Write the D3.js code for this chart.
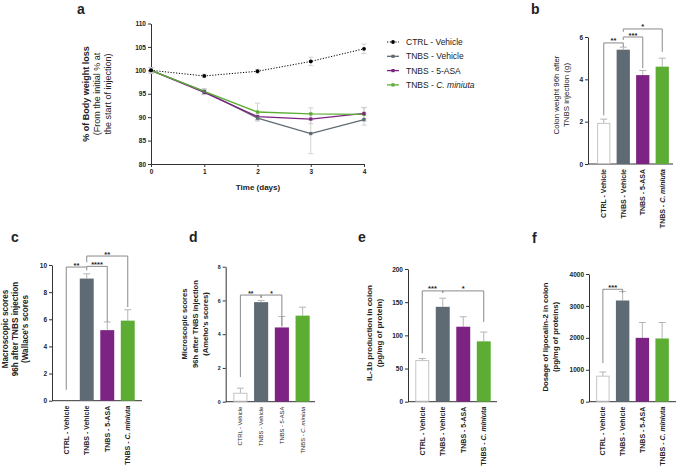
<!DOCTYPE html>
<html><head><meta charset="utf-8">
<script src="https://cdn.jsdelivr.net/npm/d3@7"></script>
<style>
body{margin:0;background:#fff}
svg{display:block}
text{font-family:"Liberation Sans",Arial,Helvetica,sans-serif;fill:#222}
</style>
</head><body>
<svg id="chart" width="676" height="472"></svg>
<script>
// ---------- DATA ----------
const groups = ["CTRL - Vehicle", "TNBS - Vehicle", "TNBS - 5-ASA", "TNBS - C. miniuta"];
const groupColors = ["#ffffff", "#5f6b74", "#7c2383", "#5dad35"];

// panel a : body weight (% of initial) over days
const days = [0, 1, 2, 3, 4];
const weightCtrl = [100, 98.8, 99.8, 101.9, 104.6];
const weightCtrlErr = [0.6, 0.4, 0.4, 0.9, 1.0];
const weightTnbs = [100, 95.5, 89.8, 86.5, 89.5];
const weightTnbsErr = [0.6, 0.6, 0.6, 4.3, 1.2];
const weightAsa = [100, 95.3, 90.1, 89.6, 90.8];
const weightAsaErr = [0.6, 0.5, 0.6, 1.0, 1.2];
const weightCmin = [100, 95.5, 91.1, 90.7, 90.6];
const weightCminErr = [0.6, 0.5, 1.9, 1.3, 1.5];
const weightTicks = [80, 85, 90, 95, 100, 105, 110];

// panel b : colon weight (g)
const colonWeight = [1.92, 5.4, 4.2, 4.6];
const colonWeightErr = [0.2, 0.12, 0.22, 0.4];
const colonTicks = [0, 2, 4, 6];

// panel c : macroscopic scores
const macroScores = [0, 9.0, 5.2, 5.9];
const macroScoresErr = [0, 0.35, 0.6, 0.8];
const macroTicks = [0, 2, 4, 6, 8, 10];

// panel d : microscopic scores
const microScores = [0.5, 5.9, 4.4, 5.1];
const microScoresErr = [0.3, 0.1, 0.65, 0.5];
const microTicks = [0, 2, 4, 6, 8];

// panel e : IL-1b
const il1b = [62, 143, 113, 91];
const il1bErr = [3, 13, 15, 14];
const il1bTicks = [0, 50, 100, 150, 200];

// panel f : lipocalin-2
const lipocalin = [800, 3170, 2000, 1980];
const lipocalinErr = [130, 280, 480, 500];
const lipocalinTicks = [0, 1000, 2000, 3000, 4000];

// significance brackets: [fromGroup, toGroup, level, leftEnd, rightEnd, label] (data units)
const colonSig = [[0, 1, 5.72, 2.3, 5.53, "**"], [1, 2, 6.0, 5.86, 4.53, "***"], [1, 3, 6.38, 6.24, 5.3, "*"]];
const macroSig = [[0, 1, 9.85, 0.8, 9.6, "**"], [1, 2, 9.9, 9.85, 5.8, "****"], [1, 3, 10.66, 10.2, 6.9, "**"]];
const microSig = [[0, 1, 6.32, 1.46, 6.15, "**"], [1, 2, 6.32, 6.15, 4.49, "*"]];
const il1bSig = [[0, 1, 167, 73, 164, "***"], [1, 3, 167, 164, 120, "*"]];
const lipoSig = [[0, 1, 3522, 1212, 3406, "***"]];

// ---------- DRAWING ----------
const svg = d3.select("#chart");
const AX = "#333", ERR = "#b5b5b5", BR = "#8a8a8a";
const fmt = d3.format("d");

function groupLabel(sel, name) {
  const parts = name.split(" - ");
  if (parts[1].startsWith("C.")) {
    sel.append("tspan").text(parts[0] + " - ");
    sel.append("tspan").attr("font-style", "italic").text(parts[1]);
  } else sel.text(name);
}

function panelLetter(x, y, t) {
  svg.append("text").attr("x", x).attr("y", y).attr("font-size", 14).attr("font-weight", "bold").text(t);
}

function yTitle(lines, xs, cy, fs, weights) {
  lines.forEach((l, i) => {
    svg.append("text")
      .attr("transform", `translate(${xs[i]},${cy}) rotate(-90)`)
      .attr("text-anchor", "middle").attr("dominant-baseline", "central")
      .attr("font-size", fs).attr("font-weight", weights[i]).text(l);
  });
}

function styleAxis(g, fs) {
  g.select(".domain").attr("stroke", AX).attr("stroke-width", 1);
  g.selectAll(".tick line").attr("stroke", AX);
  g.selectAll(".tick text").attr("font-size", fs).attr("font-weight", "bold").attr("fill", "#222");
}

function barPanel(o) {
  const y = d3.scaleLinear().domain([0, o.ticks[o.ticks.length - 1]]).range([o.yBottom, o.yTop]);
  const x = d3.scaleBand().domain(groups).range([o.bandStart, o.bandEnd]).paddingInner(0.32).paddingOuter(0.16);
  const ga = svg.append("g").attr("transform", `translate(${o.axisX},0)`)
    .call(d3.axisLeft(y).tickValues(o.ticks).tickFormat(fmt).tickSize(3).tickPadding(2).tickSizeOuter(0));
  styleAxis(ga, o.tickFs);
  svg.append("line").attr("x1", o.axisX).attr("x2", o.axisEnd).attr("y1", o.yBottom).attr("y2", o.yBottom)
    .attr("stroke", AX).attr("stroke-width", 1);
  groups.forEach((gname, i) => {
    const v = o.values[i], e = o.errors[i];
    const cx = x(gname) + x.bandwidth() / 2;
    if (e > 0) {
      svg.append("line").attr("x1", cx).attr("x2", cx).attr("y1", y(v)).attr("y2", y(v + e)).attr("stroke", ERR).attr("stroke-width", 1);
      svg.append("line").attr("x1", cx - 3.5).attr("x2", cx + 3.5).attr("y1", y(v + e)).attr("y2", y(v + e)).attr("stroke", ERR).attr("stroke-width", 1);
    }
    if (v > 0) {
      svg.append("rect").attr("x", x(gname) + (i === 0 ? 0.5 : 0)).attr("width", x.bandwidth() - (i === 0 ? 1 : 0))
        .attr("y", y(v)).attr("height", y(0) - y(v) - (i === 0 ? 0.5 : 0))
        .attr("fill", groupColors[i]).attr("stroke", i === 0 ? "#c4c4c4" : "none").attr("stroke-width", 1);
    }
    const t = svg.append("text")
      .attr("transform", `translate(${cx + o.catFs * 0.36},${o.yBottom + 5}) rotate(-90)`)
      .attr("text-anchor", "end").attr("font-size", o.catFs).attr("font-weight", o.catWeight);
    groupLabel(t, gname);
  });
  o.sig.forEach(s => {
    const xa = x(groups[s[0]]) + x.bandwidth() / 2, xb = x(groups[s[1]]) + x.bandwidth() / 2;
    const ly = y(s[2]);
    svg.append("path").attr("d", `M${xa},${y(s[3])}V${ly}H${xb}V${y(s[4])}`)
      .attr("fill", "none").attr("stroke", BR).attr("stroke-width", 1);
    svg.append("text").attr("x", (xa + xb) / 2).attr("y", ly + 0.5).attr("text-anchor", "middle")
      .attr("font-size", o.starFs).attr("font-weight", "bold").text(s[5]);
  });
  yTitle(o.title, o.titleX, o.titleY, o.titleFs, o.titleW);
}

// ---- panel a ----
(function () {
  const x = d3.scaleLinear().domain([0, 4]).range([151, 364]);
  const y = d3.scaleLinear().domain([80, 110]).range([164, 23.5]);
  const gy = svg.append("g").attr("transform", "translate(151,0)")
    .call(d3.axisLeft(y).tickValues(weightTicks).tickFormat(fmt).tickSize(3).tickPadding(2).tickSizeOuter(0));
  styleAxis(gy, 6.5);
  const gx = svg.append("g").attr("transform", "translate(0,164)")
    .call(d3.axisBottom(x).tickValues(days).tickFormat(fmt).tickSize(3).tickPadding(2).tickSizeOuter(0));
  styleAxis(gx, 6.5);

  const series = [
    {name: groups[0], v: weightCtrl, e: weightCtrlErr, c: "#000", dash: "1.2,1.6", marker: "circle"},
    {name: groups[1], v: weightTnbs, e: weightTnbsErr, c: groupColors[1], dash: null, marker: "square"},
    {name: groups[2], v: weightAsa, e: weightAsaErr, c: groupColors[2], dash: null, marker: "square"},
    {name: groups[3], v: weightCmin, e: weightCminErr, c: groupColors[3], dash: null, marker: "square"}
  ];
  series.forEach(s => {
    days.forEach((d, i) => {
      const cx = x(d);
      svg.append("line").attr("x1", cx).attr("x2", cx).attr("y1", y(s.v[i] - s.e[i])).attr("y2", y(s.v[i] + s.e[i])).attr("stroke", "#c8c8c8").attr("stroke-width", 0.8);
      [s.v[i] - s.e[i], s.v[i] + s.e[i]].forEach(val =>
        svg.append("line").attr("x1", cx - 2.5).attr("x2", cx + 2.5).attr("y1", y(val)).attr("y2", y(val)).attr("stroke", "#c8c8c8").attr("stroke-width", 0.8));
    });
  });
  const line = d3.line().x((d, i) => x(days[i])).y(d => y(d));
  series.forEach(s => {
    svg.append("path").attr("d", line(s.v)).attr("fill", "none").attr("stroke", s.c)
      .attr("stroke-width", s.dash ? 1 : 1.3).attr("stroke-dasharray", s.dash);
  });
  function marker(cx, cy, s) {
    if (s.marker === "circle") svg.append("circle").attr("cx", cx).attr("cy", cy).attr("r", 1.9).attr("fill", s.c);
    else svg.append("rect").attr("x", cx - 1.6).attr("y", cy - 1.6).attr("width", 3.2).attr("height", 3.2).attr("fill", s.c);
  }
  series.slice().reverse().forEach(s => days.forEach((d, i) => marker(x(d), y(s.v[i]), s)));

  series.forEach((s, i) => {
    const ly = 42 + i * 14.3;
    svg.append("line").attr("x1", 387).attr("x2", 399).attr("y1", ly).attr("y2", ly).attr("stroke", s.c)
      .attr("stroke-width", s.dash ? 1 : 1.3).attr("stroke-dasharray", s.dash);
    marker(393, ly, s);
    const t = svg.append("text").attr("x", 406).attr("y", ly).attr("dominant-baseline", "central").attr("font-size", 8.5);
    groupLabel(t, s.name);
  });

  svg.append("text").attr("x", 258).attr("y", 190).attr("text-anchor", "middle").attr("font-size", 8).attr("font-weight", "bold").text("Time (days)");
  yTitle(["% of Body weight loss", "(From the initial % at", "the start of injection)"], [86, 97, 107.5], 94, 9, ["bold", "normal", "normal"]);
  panelLetter(77, 14, "a");
})();

// ---- panel b ----
barPanel({axisX: 588, axisEnd: 673, yTop: 37, yBottom: 164, bandStart: 594, bandEnd: 672,
  ticks: colonTicks, values: colonWeight, errors: colonWeightErr, sig: colonSig,
  tickFs: 6.5, catFs: 7, catWeight: "bold", starFs: 7.5,
  title: ["Colon weight 96h after", "TNBS injection (g)"], titleX: [556.5, 566], titleY: 95, titleFs: 7.9, titleW: ["normal", "normal"]});
panelLetter(531, 14, "b");

// ---- panel c ----
barPanel({axisX: 52, axisEnd: 142, yTop: 265, yBottom: 400.7, bandStart: 56, bandEnd: 138,
  ticks: macroTicks, values: macroScores, errors: macroScoresErr, sig: macroSig,
  tickFs: 6.5, catFs: 7, catWeight: "bold", starFs: 7.5,
  title: ["Macroscopic scores", "96h after TNBS injection", "(Wallace's scores"], titleX: [5, 15, 25], titleY: 329, titleFs: 8.2, titleW: ["bold", "bold", "bold"]});
panelLetter(11, 242, "c");

// ---- panel d ----
barPanel({axisX: 225.7, axisEnd: 315, yTop: 266.7, yBottom: 401.7, bandStart: 230, bandEnd: 313,
  ticks: microTicks, values: microScores, errors: microScoresErr, sig: microSig,
  tickFs: 5.3, catFs: 5.8, catWeight: "normal", starFs: 6.5,
  title: ["Microscopic scores", "96h after TNBS injection", "(Ameho's scores)"], titleX: [184.5, 195, 205.5], titleY: 324, titleFs: 7.6, titleW: ["bold", "bold", "bold"]});
panelLetter(189, 242, "d");

// ---- panel e ----
barPanel({axisX: 408, axisEnd: 497, yTop: 269, yBottom: 401.7, bandStart: 412, bandEnd: 494,
  ticks: il1bTicks, values: il1b, errors: il1bErr, sig: il1bSig,
  tickFs: 6.5, catFs: 7, catWeight: "bold", starFs: 7.5,
  title: ["IL-1b production in colon", "(pg/mg of protein)"], titleX: [369.5, 379.5], titleY: 333, titleFs: 8, titleW: ["bold", "bold"]});
panelLetter(358, 242, "e");

// ---- panel f ----
barPanel({axisX: 589, axisEnd: 676, yTop: 274, yBottom: 401.7, bandStart: 593, bandEnd: 672,
  ticks: lipocalinTicks, values: lipocalin, errors: lipocalinErr, sig: lipoSig,
  tickFs: 6.5, catFs: 7, catWeight: "bold", starFs: 7.5,
  title: ["Dosage of lipocalin-2 in colon", "(pg/mg of proteins)"], titleX: [545, 555.5], titleY: 337, titleFs: 7.7, titleW: ["bold", "bold"]});
panelLetter(532, 243, "f");
</script>
</body></html>
